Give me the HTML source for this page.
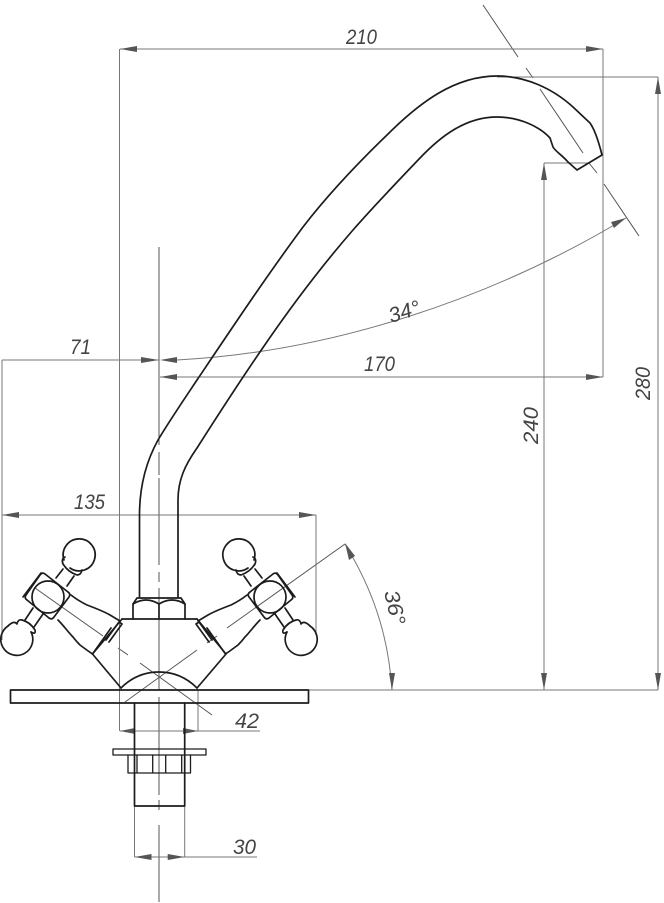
<!DOCTYPE html>
<html><head><meta charset="utf-8">
<style>
html,body{margin:0;padding:0;background:#fff;width:664px;height:903px;overflow:hidden}
svg{display:block}
text{font-family:"Liberation Sans",sans-serif;font-style:italic;font-size:21px;fill:#444}
.t{fill:none;stroke:#1c1c1c;stroke-width:1.7;stroke-linejoin:round;stroke-linecap:round}
.d{fill:none;stroke:#777;stroke-width:1}
.c{fill:none;stroke:#555;stroke-width:1}
.a{fill:#555;stroke:none}
</style></head><body>
<svg width="664" height="903" viewBox="0 0 664 903" xmlns="http://www.w3.org/2000/svg">
<defs>
<g id="h">
<path class="t" d="M70 568A16 16 0 1 0 64 560"/>
<path class="t" d="M31 632A16 16 0 1 1 8 626"/>
<circle class="t" cx="48" cy="597" r="16"/>
<path class="t" d="M65 557Q61 559 63 564Q68 572 77 575Q81 575 82 570"/>
<path class="t" d="M8 626Q14 620 17 624M17 624Q18 619 22 620Q30 622 35 630Q36 635 31 632"/>
<path class="t" d="M63 569L56 578M74 576L67 586"/>
<path class="t" d="M25 620L33 608M34 627L43 614"/>
<path class="t" d="M45 574Q42 572 40 575L26 595Q24 598 27 600L49 618Q52 620 54 617L69 597Q71 594 68 592Z"/>
<path class="t" d="M23 597L41 573"/>
<path class="t" d="M71 595C76 599 81 602 87 605C95 608 103 611 110 615L120 621"/>
<path class="t" d="M58 620C64 626 68 632 73 637C76 641 78 643 80 645C84 648 88 651 92.500 654"/>
<path class="t" d="M92.500 654L111 628M106 640L119 622M109 642L122 624M119 622L122 624"/>
</g>
</defs>

<!-- centre line -->
<path class="c" d="M159 247V445M159 452V475M159 478V565M159 572V582M159 588V690M159 697V795M159 800V810M159 825V902"/>

<!-- axes -->
<path class="c" d="M483 5L518 57M526 68L533 78M540 89L583 153M589 163L597 173M604 184L639 236"/>
<path class="c" d="M345 544L227 628M217 636L207 643M197 650L125 702"/>
<path class="c" d="M35 588L103 636M118 648L128 655M140 663L212 715"/>

<!-- extension and dimension lines -->
<path class="d" d="M119.500 49V731M603 49V377M120 49H603M160 377H603"/>
<path class="d" d="M497 77H658M658 77V690M544 163V690M544 163H590M308 690H658"/>
<path class="d" d="M2 360H159M2 360V640M2 515H316M316 515V634"/>
<path class="d" d="M120 731H260M198 690V731M134.500 806V857M184.700 806V857M134.500 857H257"/>
<path class="d" d="M177 360C330 352 490 300 626 218"/>
<path class="d" d="M345 544C370 585 388 630 392 690"/>

<!-- arrowheads -->
<g class="a">
<path d="M120 49l17-3v6zM603 49l-17-3v6z"/>
<path d="M160 377l17-3v6zM603 377l-17-3v6z"/>
<path d="M159 360l-18-3v6zM160 360l17-3v6z"/>
<path d="M2 515l17-3v6zM316 515l-17-3v6z"/>
<path d="M120 731l15-3v6zM198 731l-15-3v6z"/>
<path d="M134.500 857l17-3v6zM184.700 857l-17-3v6z"/>
<path d="M658 77l-3 17h6zM658 690l-3-17h6z"/>
<path d="M544 163l-3 17h6zM544 690l-3-17h6z"/>
<path d="M626 218l-15 4 3 6z"/>
<path d="M345 543l4 17 6-4z"/>
<path d="M392 690l-3-17h6z"/>
</g>

<!-- spout -->
<path class="t" d="M139.500 597V515C139.500 485 147 460 158 440C170 420 185 398 197 380C232 328 268 274 303 227C330 192 358 163 387 135C420 102 455 76 497 76C525 76 552 88 573 107L590 123C595 130 599 143 602 155L577 170L568 162C562 155 556 152 553 147L550 138C540 127 520 117 497 117C465 117 440 137 420 158C397 182 375 205 353 230C320 268 290 308 262 349C240 381 218 415 197 448C185 465 178 480 178 500V597"/>

<!-- nut, body, plate -->
<path class="t" d="M133 619V604L137 598H181L185 604V619"/>
<path class="t" d="M133 604Q146 596 159 604Q172 596 185 604M159 604V619"/>
<path class="t" d="M122 619H197"/>
<path class="t" d="M122 619L92.500 654L121 688M197 619L226 654L197 688"/>
<path class="t" d="M121 688Q137 672 159 672Q181 672 197 688"/>
<rect class="t" x="10.500" y="690" width="298" height="13"/>

<!-- handles -->
<use href="#h"/>
<use href="#h" transform="matrix(-1 0 0 1 318 0)"/>

<!-- lower assembly -->
<path class="t" d="M134.500 703V806H184.700V703"/>
<rect class="t" x="113" y="749" width="93" height="6" style="stroke-width:1.300"/>
<path class="t" d="M128 755V773H190.500V755M137 755V773M152.700 755V773M165.700 755V773M181.700 755V773" style="stroke-width:1.300"/>

<!-- labels -->
<text x="346" y="44" textLength="31" lengthAdjust="spacingAndGlyphs">210</text>
<text x="70" y="354" textLength="21" lengthAdjust="spacingAndGlyphs">71</text>
<text x="364" y="371" textLength="31" lengthAdjust="spacingAndGlyphs">170</text>
<text x="74" y="509" textLength="31" lengthAdjust="spacingAndGlyphs">135</text>
<text x="235" y="728" textLength="24" lengthAdjust="spacingAndGlyphs">42</text>
<text x="233" y="854" textLength="23" lengthAdjust="spacingAndGlyphs">30</text>
<text transform="translate(650 400) rotate(-90)" textLength="33" lengthAdjust="spacingAndGlyphs">280</text>
<text transform="translate(538 444) rotate(-90)" textLength="37" lengthAdjust="spacingAndGlyphs">240</text>
<text transform="translate(391 323) rotate(-17)" textLength="32" lengthAdjust="spacingAndGlyphs">34°</text>
<text transform="translate(384 592) rotate(77)" textLength="35" lengthAdjust="spacingAndGlyphs">36°</text>
</svg>
</body></html>
